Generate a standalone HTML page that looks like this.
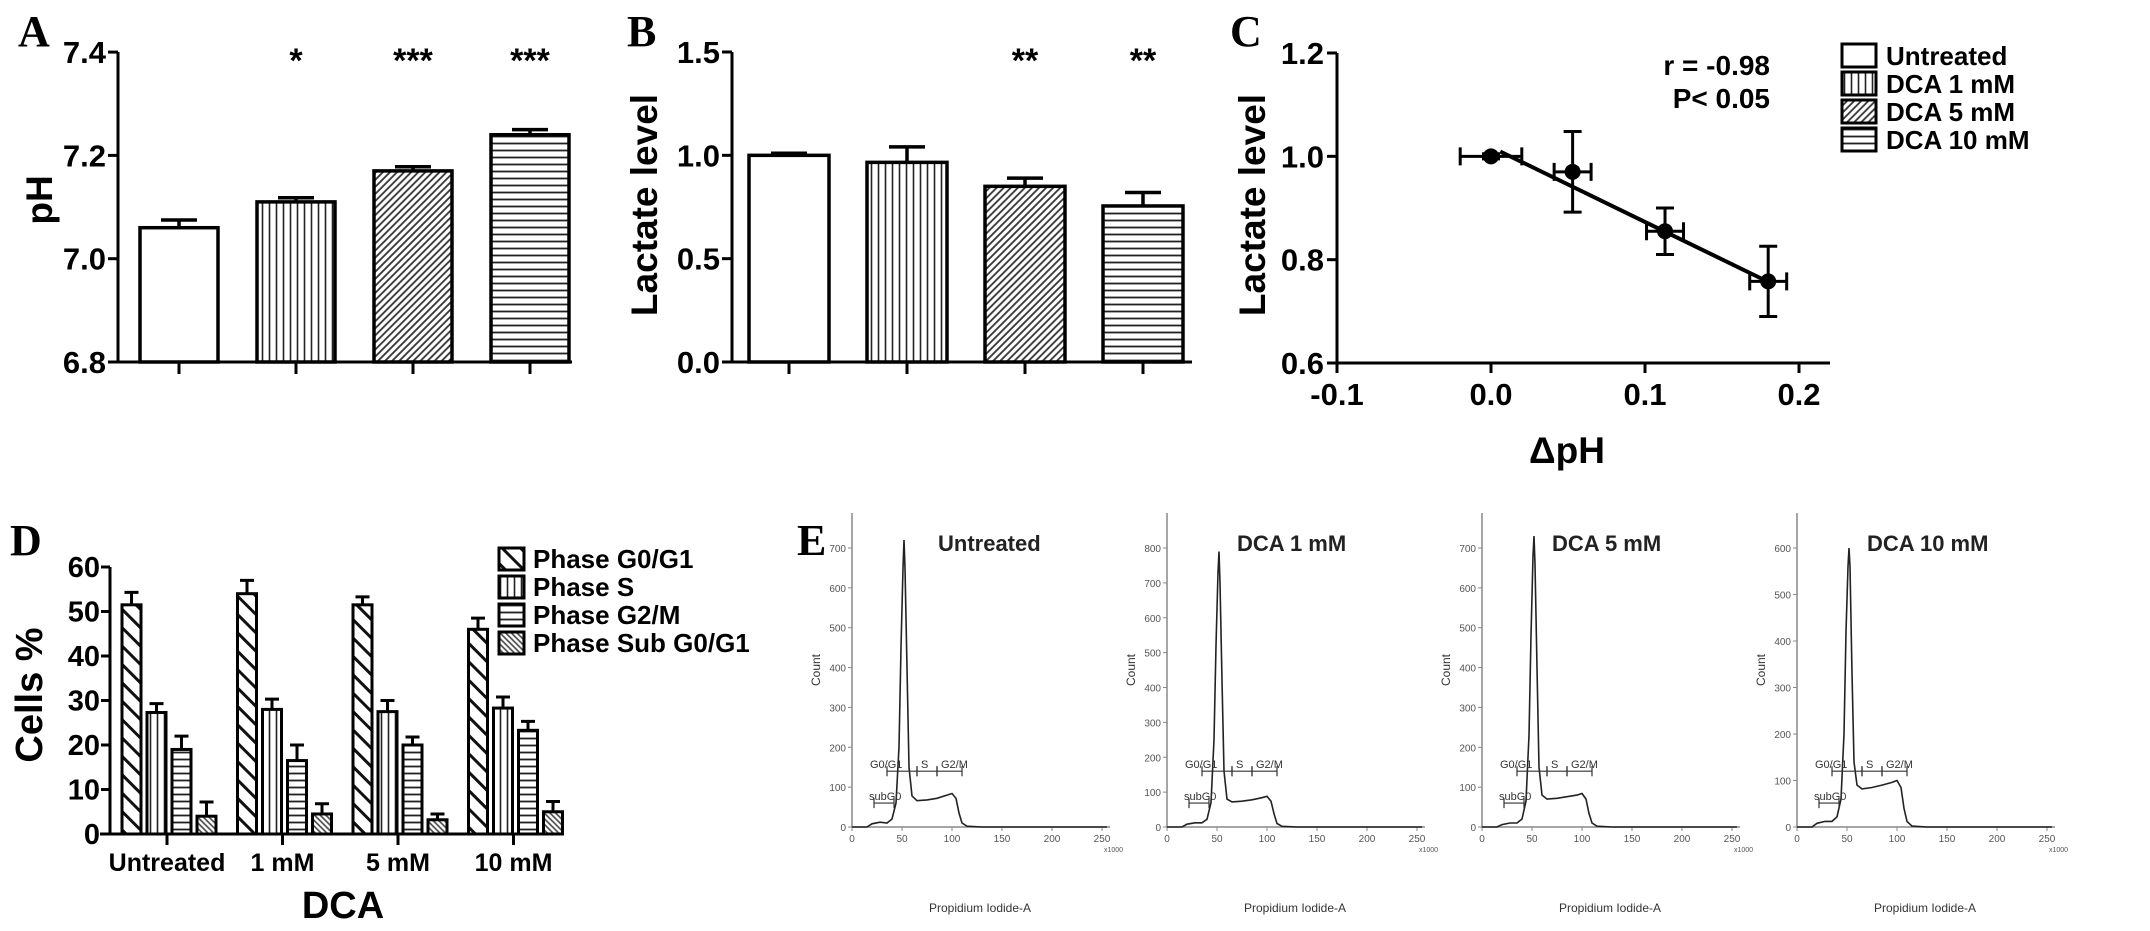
<!DOCTYPE html>
<html><head><meta charset="utf-8"><style>
html,body{margin:0;padding:0;background:#fff;}
svg{display:block;font-family:"Liberation Sans",Arial,sans-serif;}
.b{font-weight:bold;}
</style></head>
<body>
<svg id="fig" xmlns="http://www.w3.org/2000/svg" width="2150" height="931" viewBox="0 0 2150 931">
<defs>
<pattern id="pV" patternUnits="userSpaceOnUse" width="7" height="7"><rect width="7" height="7" fill="#fff"/><line x1="3.5" y1="0" x2="3.5" y2="7" stroke="#222" stroke-width="1.6"/></pattern>
<pattern id="pH" patternUnits="userSpaceOnUse" width="7" height="7"><rect width="7" height="7" fill="#fff"/><line x1="0" y1="3.5" x2="7" y2="3.5" stroke="#222" stroke-width="1.8"/></pattern>
<pattern id="pD" patternUnits="userSpaceOnUse" width="5" height="5" patternTransform="rotate(45)"><rect width="5" height="5" fill="#fff"/><line x1="2.5" y1="0" x2="2.5" y2="5" stroke="#333" stroke-width="1.8"/></pattern>
<pattern id="pW" patternUnits="userSpaceOnUse" width="13" height="13" patternTransform="rotate(-45)"><rect width="13" height="13" fill="#fff"/><line x1="6.5" y1="0" x2="6.5" y2="13" stroke="#111" stroke-width="3"/></pattern>
<pattern id="pSub" patternUnits="userSpaceOnUse" width="4" height="4" patternTransform="rotate(-45)"><rect width="4" height="4" fill="#fff"/><line x1="2" y1="0" x2="2" y2="4" stroke="#444" stroke-width="1.6"/></pattern>
</defs>
<g id="root"></g>
</svg>
<script>
// ---------- Panel A data ----------
const aCats = ["Untreated","DCA 1 mM","DCA 5 mM","DCA 10 mM"];
const aVals = [7.06, 7.11, 7.17, 7.24];
const aErr = [0.015, 0.008, 0.008, 0.01];
const aSig = ["", "*", "***", "***"];
const aTicks = [6.8, 7.0, 7.2, 7.4];
const aTickLabels = ["6.8", "7.0", "7.2", "7.4"];
// ---------- Panel B data ----------
const bVals = [1.0, 0.966, 0.85, 0.755];
const bErr = [0.01, 0.075, 0.04, 0.065];
const bSig = ["", "", "**", "**"];
const bTicks = [0.0, 0.5, 1.0, 1.5];
const bTickLabels = ["0.0", "0.5", "1.0", "1.5"];
// ---------- Panel C data ----------
const cX = [0.0, 0.053, 0.113, 0.18];
const cY = [1.0, 0.97, 0.855, 0.758];
const cXErr = [0.02, 0.012, 0.012, 0.012];
const cYErr = [0.005, 0.078, 0.045, 0.068];
const cFit = [1.018, -1.45];
const cXTicks = [-0.1, 0.0, 0.1, 0.2];
const cXTickLabels = ["-0.1", "0.0", "0.1", "0.2"];
const cYTicks = [0.6, 0.8, 1.0, 1.2];
const cYTickLabels = ["0.6", "0.8", "1.0", "1.2"];
// ---------- Panel D data ----------
const dCats = ["Untreated", "1 mM", "5 mM", "10 mM"];
const dSeries = ["Phase G0/G1", "Phase S", "Phase G2/M", "Phase Sub G0/G1"];
const dG0 = [51.5, 54, 51.5, 46];
const dG0Err = [2.8, 3.0, 1.8, 2.5];
const dS = [27.3, 28, 27.5, 28.3];
const dSErr = [2.0, 2.3, 2.5, 2.5];
const dG2 = [19, 16.5, 20, 23.3];
const dG2Err = [3.0, 3.5, 1.8, 2.0];
const dSub = [4, 4.5, 3.2, 5];
const dSubErr = [3.2, 2.3, 1.3, 2.3];
const dTicks = [0, 10, 20, 30, 40, 50, 60];
// ---------- Panel E data (x in thousands, count) ----------
const eTitles = ["Untreated", "DCA  1 mM", "DCA 5 mM", "DCA 10 mM"];
const eTop = [700, 800, 700, 600];
const eH0 = [[0,0],[15,0],[20,8],[28,12],[35,10],[40,20],[44,60],[47,200],[49,450],[51,650],[52,720],[53,650],[55,400],[57,150],[60,78],[65,66],[75,68],[85,72],[95,80],[100,84],[104,72],[107,35],[110,10],[115,2],[130,0],[255,0]];
const eH1 = [[0,0],[15,0],[20,8],[28,12],[35,12],[40,22],[44,70],[47,250],[49,520],[51,730],[52,790],[53,700],[55,420],[57,160],[60,80],[65,72],[75,74],[85,78],[95,84],[100,88],[104,74],[107,38],[110,10],[115,2],[130,0],[255,0]];
const eH2 = [[0,0],[15,0],[20,6],[28,10],[35,10],[40,20],[44,65],[47,230],[49,480],[51,680],[52,730],[53,660],[55,400],[57,150],[60,80],[65,70],[75,72],[85,76],[95,80],[100,84],[104,70],[107,34],[110,10],[115,2],[130,0],[255,0]];
const eH3 = [[0,0],[15,0],[20,8],[28,12],[35,12],[40,22],[44,60],[47,200],[49,420],[51,560],[52,600],[53,560],[55,330],[57,140],[60,90],[65,82],[75,85],[85,90],[95,96],[100,100],[104,85],[107,40],[110,12],[115,2],[130,0],[255,0]];
const eHists = [eH0, eH1, eH2, eH3];
const eGateNames = ["G0/G1", "S", "G2/M", "subG0"];
const eGateStart = [35, 65, 85, 22];
const eGateEnd = [65, 85, 110, 42];
const eGateLevel = [140, 140, 140, 60];
const eXTicks = [0, 50, 100, 150, 200, 250];

const NS = "http://www.w3.org/2000/svg";
const root = document.getElementById("root");
function mk(tag, attrs, parent) {
  const e = document.createElementNS(NS, tag);
  for (const k in attrs) e.setAttribute(k, attrs[k]);
  (parent || root).appendChild(e);
  return e;
}
function txt(s, attrs, parent) { const e = mk("text", attrs, parent); e.textContent = s; return e; }
let el;

// ================= Panel A =================
const yA = v => 362 - (v - 6.8) / 0.2 * 103.3;
const xA = i => 179 + i * 117;
const aFill = ["#fff", "url(#pV)", "url(#pD)", "url(#pH)"];
el = txt("A", {x: 18, y: 46, "font-family": "Liberation Serif,serif", "font-size": 44, "font-weight": "bold"});


el = mk("line", {x1: 118, y1: 52, x2: 118, y2: 362, stroke: "#000", "stroke-width": 3});


el = mk("line", {x1: 117, y1: 362, x2: 572, y2: 362, stroke: "#000", "stroke-width": 3});


aTicks.forEach((t, i) => {
  const e = mk("line", {x1: 108, y1: yA(t), x2: 118, y2: yA(t), stroke: "#000", "stroke-width": 3});
  
  
  const l = txt(aTickLabels[i], {x: 106, y: yA(t) + 11, "text-anchor": "end", "font-size": 31, class: "b"});
  
  
});
el = txt("pH", {x: 0, y: 0, transform: "translate(52,200) rotate(-90)", "text-anchor": "middle", "font-size": 37, class: "b"});


aVals.forEach((v, i) => {
  const cx = xA(i);
  const r = mk("rect", {x: cx - 39, y: yA(v), width: 78, height: 362 - yA(v), fill: aFill[i], stroke: "#000", "stroke-width": 3.5});
  
  
  const e = mk("path", {d: `M${cx},${yA(v)} V${yA(v + aErr[i])} M${cx - 18},${yA(v + aErr[i])} H${cx + 18}`, stroke: "#000", "stroke-width": 3.5, fill: "none"});
  
  
  const t = mk("line", {x1: cx, y1: 362, x2: cx, y2: 374, stroke: "#000", "stroke-width": 3});
  
  
  if (aSig[i]) {
    const s = txt(aSig[i], {x: cx, y: 72, "text-anchor": "middle", "font-size": 34, class: "b"});
    
    
  }
});

// ================= Panel B =================
const yB = v => 362 - v / 1.5 * 310;
const xB = i => 789 + i * 118;
el = txt("B", {x: 627, y: 46, "font-family": "Liberation Serif,serif", "font-size": 44, "font-weight": "bold"});


el = mk("line", {x1: 732, y1: 52, x2: 732, y2: 362, stroke: "#000", "stroke-width": 3});


el = mk("line", {x1: 731, y1: 362, x2: 1192, y2: 362, stroke: "#000", "stroke-width": 3});


bTicks.forEach((t, i) => {
  const e = mk("line", {x1: 722, y1: yB(t), x2: 732, y2: yB(t), stroke: "#000", "stroke-width": 3});
  
  
  const l = txt(bTickLabels[i], {x: 720, y: yB(t) + 11, "text-anchor": "end", "font-size": 31, class: "b"});
  
  
});
el = txt("Lactate level", {x: 0, y: 0, transform: "translate(657,205) rotate(-90)", "text-anchor": "middle", "font-size": 37, class: "b"});


bVals.forEach((v, i) => {
  const cx = xB(i);
  const r = mk("rect", {x: cx - 40, y: yB(v), width: 80, height: 362 - yB(v), fill: aFill[i], stroke: "#000", "stroke-width": 3.5});
  
  
  const e = mk("path", {d: `M${cx},${yB(v)} V${yB(v + bErr[i])} M${cx - 18},${yB(v + bErr[i])} H${cx + 18}`, stroke: "#000", "stroke-width": 3.5, fill: "none"});
  
  
  const t = mk("line", {x1: cx, y1: 362, x2: cx, y2: 374, stroke: "#000", "stroke-width": 3});
  
  
  if (bSig[i]) {
    const s = txt(bSig[i], {x: cx, y: 72, "text-anchor": "middle", "font-size": 34, class: "b"});
    
    
  }
});

// ================= Panel C =================
const xC = v => 1491 + v * 1540;
const yC = v => 363 - (v - 0.6) / 0.6 * 310;
el = txt("C", {x: 1230, y: 46, "font-family": "Liberation Serif,serif", "font-size": 44, "font-weight": "bold"});


el = mk("line", {x1: 1337, y1: 53, x2: 1337, y2: 363, stroke: "#000", "stroke-width": 3});


el = mk("line", {x1: 1336, y1: 363, x2: 1830, y2: 363, stroke: "#000", "stroke-width": 3});


cYTicks.forEach((t, i) => {
  const e = mk("line", {x1: 1327, y1: yC(t), x2: 1337, y2: yC(t), stroke: "#000", "stroke-width": 3});
  
  
  const l = txt(cYTickLabels[i], {x: 1324, y: yC(t) + 11, "text-anchor": "end", "font-size": 31, class: "b"});
  
  
});
cXTicks.forEach((t, i) => {
  const e = mk("line", {x1: xC(t), y1: 363, x2: xC(t), y2: 373, stroke: "#000", "stroke-width": 3});
  
  
  const l = txt(cXTickLabels[i], {x: xC(t), y: 405, "text-anchor": "middle", "font-size": 31, class: "b"});
  
  
});
el = txt("Lactate level", {x: 0, y: 0, transform: "translate(1265,205) rotate(-90)", "text-anchor": "middle", "font-size": 37, class: "b"});


el = txt("ΔpH", {x: 1567, y: 463, "text-anchor": "middle", "font-size": 37, class: "b"});


const fx0 = cX[0] + 0.006, fx1 = cX[cX.length - 1];
el = mk("line", {x1: xC(fx0), y1: yC(cFit[0] + cFit[1] * fx0), x2: xC(fx1), y2: yC(cFit[0] + cFit[1] * fx1), stroke: "#000", "stroke-width": 4});


cX.forEach((xv, i) => {
  const px = xC(xv), py = yC(cY[i]);
  const xl = xC(xv - cXErr[i]), xr = xC(xv + cXErr[i]);
  const yt = yC(cY[i] + cYErr[i]), yb = yC(cY[i] - cYErr[i]);
  const e = mk("path", {d: `M${xl},${py} H${xr} M${xl},${py - 9} V${py + 9} M${xr},${py - 9} V${py + 9} M${px},${yt} V${yb} M${px - 9},${yt} H${px + 9} M${px - 9},${yb} H${px + 9}`, stroke: "#000", "stroke-width": 3, fill: "none"});
  
  
  const c = mk("circle", {cx: px, cy: py, r: 8, fill: "#000"});
  
  
});
el = txt("r = -0.98", {x: 1770, y: 75, "text-anchor": "end", "font-size": 28, class: "b"});


el = txt("P< 0.05", {x: 1770, y: 108, "text-anchor": "end", "font-size": 28, class: "b"});


aCats.forEach((c, i) => {
  const y = 44 + i * 28;
  const r = mk("rect", {x: 1842, y: y, width: 34, height: 23, fill: aFill[i], stroke: "#000", "stroke-width": 3});
  
  
  const t = txt(c, {x: 1886, y: y + 21, "font-size": 26, class: "b"});
  
  
});

// ================= Panel D =================
const yD = v => 834 - v * 4.45;
const gx = g => 122 + g * 115.5;
const dFill = ["url(#pW)", "url(#pV)", "url(#pH)", "url(#pSub)"];
const dAll = [dG0, dS, dG2, dSub];
const dAllErr = [dG0Err, dSErr, dG2Err, dSubErr];
el = txt("D", {x: 10, y: 555, "font-family": "Liberation Serif,serif", "font-size": 44, "font-weight": "bold"});


el = mk("line", {x1: 110, y1: yD(60), x2: 110, y2: 834, stroke: "#000", "stroke-width": 3});


el = mk("line", {x1: 100, y1: 834, x2: 560, y2: 834, stroke: "#000", "stroke-width": 3});


dTicks.forEach(t => {
  const e = mk("line", {x1: 101, y1: yD(t), x2: 110, y2: yD(t), stroke: "#000", "stroke-width": 3});
  
  
  const l = txt(String(t), {x: 100, y: yD(t) + 10, "text-anchor": "end", "font-size": 29, class: "b"});
  
  
});
el = txt("Cells %", {x: 0, y: 0, transform: "translate(42,695) rotate(-90)", "text-anchor": "middle", "font-size": 38, class: "b"});


el = txt("DCA", {x: 343, y: 918, "text-anchor": "middle", "font-size": 38, class: "b"});


dCats.forEach((c, g) => {
  const tx = gx(g) + 45;
  const t = mk("line", {x1: tx, y1: 834, x2: tx, y2: 845, stroke: "#000", "stroke-width": 3});
  
  
  const l = txt(c, {x: tx, y: 871, "text-anchor": "middle", "font-size": 25, class: "b"});
  
  
  dAll.forEach((ser, j) => {
    const v = ser[g], ev = dAllErr[j][g];
    const x = gx(g) + j * 25, cx = x + 9.5;
    const r = mk("rect", {x: x, y: yD(v), width: 19, height: 834 - yD(v), fill: dFill[j], stroke: "#000", "stroke-width": 3});
    
    
    const e = mk("path", {d: `M${cx},${yD(v)} V${yD(v + ev)} M${cx - 7},${yD(v + ev)} H${cx + 7}`, stroke: "#000", "stroke-width": 3, fill: "none"});
    
    
  });
});
dSeries.forEach((s, j) => {
  const y = 548 + j * 28;
  const r = mk("rect", {x: 499, y: y, width: 25, height: 22, fill: dFill[j], stroke: "#000", "stroke-width": 3});
  
  
  const t = txt(s, {x: 533, y: y + 20, "font-size": 26, class: "b"});
  
  
});

// ================= Panel E =================
el = txt("E", {x: 797, y: 555, "font-family": "Liberation Serif,serif", "font-size": 44, "font-weight": "bold"});


eHists.forEach((h, p) => {
  const x0 = 852 + p * 315;
  const xE = v => x0 + v * 1.0;
  const yE = c => 827 - c / eTop[p] * 279;
  const g = mk("g", {});
  
  
  const ax = mk("path", {d: `M${x0},513 V827 H${x0 + 258}`, stroke: "#888", "stroke-width": 1.5, fill: "none"}, g);
  
  
  for (let c = 0; c <= eTop[p]; c += 100) {
    const tk = mk("line", {x1: x0 - 4, y1: yE(c), x2: x0, y2: yE(c), stroke: "#888", "stroke-width": 1}, g);
    
    
    const tl = txt(String(c), {x: x0 - 6, y: yE(c) + 4, "text-anchor": "end", "font-size": 10, fill: "#555"}, g);
    
    
  }
  eXTicks.forEach(t => {
    const tk = mk("line", {x1: xE(t), y1: 827, x2: xE(t), y2: 831, stroke: "#888", "stroke-width": 1}, g);
    
    
    const tl = txt(String(t), {x: xE(t), y: 842, "text-anchor": "middle", "font-size": 10, fill: "#555"}, g);
    
    
  });
  const xu = txt("x1000", {x: x0 + 252, y: 852, "font-size": 7, fill: "#555"}, g);
  
  
  const cl = txt("Count", {x: 0, y: 0, transform: `translate(${x0 - 32},670) rotate(-90)`, "text-anchor": "middle", "font-size": 12, fill: "#333"}, g);
  
  
  const xl = txt("Propidium Iodide-A", {x: x0 + 128, y: 912, "text-anchor": "middle", "font-size": 12, fill: "#333"}, g);
  
  
  const tt = txt(eTitles[p], {x: x0 + (p === 0 ? 86 : 70), y: 551, "font-size": 22, class: "b", fill: "#222"}, g);
  
  
  const d = h.map((pt, k) => (k ? "L" : "M") + xE(pt[0]).toFixed(1) + "," + yE(pt[1]).toFixed(1)).join(" ");
  const ln = mk("path", {d: d, stroke: "#222", "stroke-width": 1.6, fill: "none"}, g);
  
  
  eGateNames.forEach((gn, k) => {
    const ys = yE(eGateLevel[k] * eTop[p] / 700);
    const xa = xE(eGateStart[k]), xb = xE(eGateEnd[k]);
    const gl = mk("path", {d: `M${xa},${ys} H${xb} M${xa},${ys - 5} V${ys + 5} M${xb},${ys - 5} V${ys + 5}`, stroke: "#333", "stroke-width": 1.2, fill: "none"}, g);
    
    
    const lx = k === 0 ? xE(18) : (k === 3 ? xE(17) : xa + 4);
    const lt = txt(gn, {x: lx, y: ys - 3, "font-size": 11, fill: "#333"}, g);
    
    
  });
});
</script>
</body></html>
